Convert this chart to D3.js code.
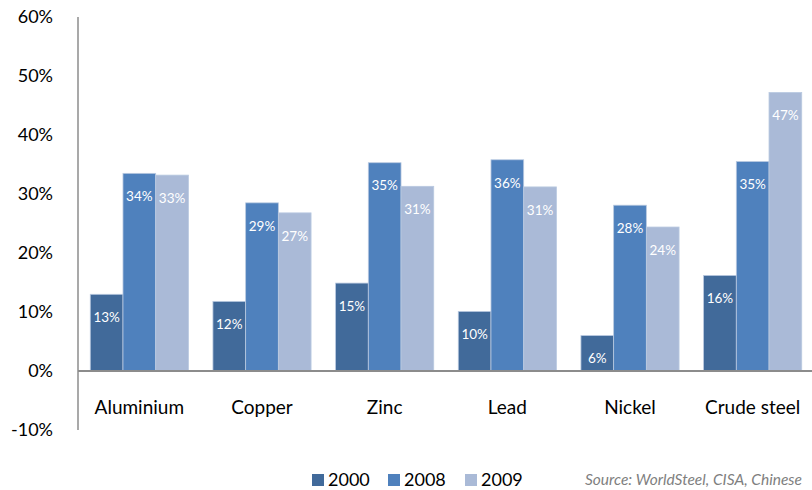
<!DOCTYPE html>
<html>
<head>
<meta charset="utf-8">
<script src="https://cdn.jsdelivr.net/npm/d3@7"></script>
<style>
  body { margin: 0; background: #fff; }
  svg text { font-family: Lato, "Open Sans", sans-serif; }
</style>
</head>
<body>
<div class="chart"></div>
<script>
// data
var categories = ["Aluminium", "Copper", "Zinc", "Lead", "Nickel", "Crude steel"];
var years = ["2000", "2008", "2009"];
var values2000 = [13.0, 11.8, 14.9, 10.1, 6.0, 16.2];
var values2008 = [33.5, 28.5, 35.3, 35.8, 28.1, 35.5];
var values2009 = [33.2, 26.8, 31.3, 31.2, 24.4, 47.2];
var labels2000 = ["13%", "12%", "15%", "10%", "6%", "16%"];
var labels2008 = ["34%", "29%", "35%", "36%", "28%", "35%"];
var labels2009 = ["33%", "27%", "31%", "31%", "24%", "47%"];
var yTicks = [-10, 0, 10, 20, 30, 40, 50, 60];
var sourceText = "Source: WorldSteel, CISA, Chinese";

var colors = ["#416a9a", "#4f81bd", "#aabad7"];
var seriesValues = [values2000, values2008, values2009];
var seriesLabels = [labels2000, labels2008, labels2009];

var Width = 812, Height = 490;

var svg = d3.select(".chart").append("svg")
    .attr("width", Width)
    .attr("height", Height);

// scales
var x = d3.scaleBand()
    .domain(categories)
    .range([78, 814])
    .paddingInner(0.2)
    .paddingOuter(0.1);

var xs = d3.scaleBand()
    .domain(years)
    .range([0, x.bandwidth()]);

var y = d3.scaleLinear()
    .domain([-10, 60])
    .range([430, 17]);

// y tick labels
svg.append("g").selectAll("text")
  .data(yTicks)
  .enter().append("text")
    .attr("x", 53)
    .attr("y", function(d) { return y(d); })
    .attr("dy", "0.35em")
    .attr("text-anchor", "end")
    .style("font-size", "18px")
    .style("fill", "#000")
    .text(function(d) { return d + "%"; });

// bars
var rows = [];
categories.forEach(function(c, i) {
  years.forEach(function(yr, j) {
    rows.push({cat: c, year: yr, s: j, value: seriesValues[j][i], label: seriesLabels[j][i]});
  });
});

svg.append("g").selectAll("rect")
  .data(rows)
  .enter().append("rect")
    .attr("x", function(d) { return x(d.cat) + xs(d.year); })
    .attr("y", function(d) { return y(d.value); })
    .attr("width", xs.bandwidth())
    .attr("height", function(d) { return y(0) - y(d.value); })
    .attr("fill", function(d) { return colors[d.s]; })
    .attr("stroke", "#b9c9e0")
    .attr("stroke-width", 0.8);

// value labels inside top of bars
svg.append("g").selectAll("text")
  .data(rows)
  .enter().append("text")
    .attr("x", function(d) { return x(d.cat) + xs(d.year) + xs.bandwidth() / 2; })
    .attr("y", function(d) { return y(d.value) + 23; })
    .attr("dy", "0.35em")
    .attr("text-anchor", "middle")
    .style("font-size", "13.5px")
    .style("fill", "#fff")
    .text(function(d) { return d.label; });

// axes lines
svg.append("line")
    .attr("x1", 78).attr("x2", 78)
    .attr("y1", y(60)).attr("y2", y(-10))
    .attr("stroke", "#8c8c8c")
    .attr("stroke-width", 1.5);

svg.append("line")
    .attr("x1", 78).attr("x2", 812)
    .attr("y1", y(0)).attr("y2", y(0))
    .attr("stroke", "#8c8c8c")
    .attr("stroke-width", 2);

// category labels
svg.append("g").selectAll("text")
  .data(categories)
  .enter().append("text")
    .attr("x", function(d) { return x(d) + x.bandwidth() / 2; })
    .attr("y", 407)
    .attr("dy", "0.35em")
    .attr("text-anchor", "middle")
    .style("font-size", "19px")
    .style("fill", "#000")
    .text(function(d) { return d; });

// legend
var legendX = [312, 388, 465];
var legend = svg.append("g").selectAll("g")
  .data(years)
  .enter().append("g")
    .attr("transform", function(d, i) { return "translate(" + legendX[i] + ",480)"; });

legend.append("rect")
    .attr("x", 0).attr("y", -6)
    .attr("width", 12).attr("height", 12)
    .attr("fill", function(d, i) { return colors[i]; });

legend.append("text")
    .attr("x", 16)
    .attr("y", 0)
    .attr("dy", "0.35em")
    .style("font-size", "18px")
    .style("fill", "#000")
    .text(function(d) { return d; });

// source note
svg.append("text")
    .attr("x", 802)
    .attr("y", 480)
    .attr("dy", "0.35em")
    .attr("text-anchor", "end")
    .style("font-size", "15.5px")
    .style("font-style", "italic")
    .style("fill", "#7f7f7f")
    .text(sourceText);
</script>
</body>
</html>
